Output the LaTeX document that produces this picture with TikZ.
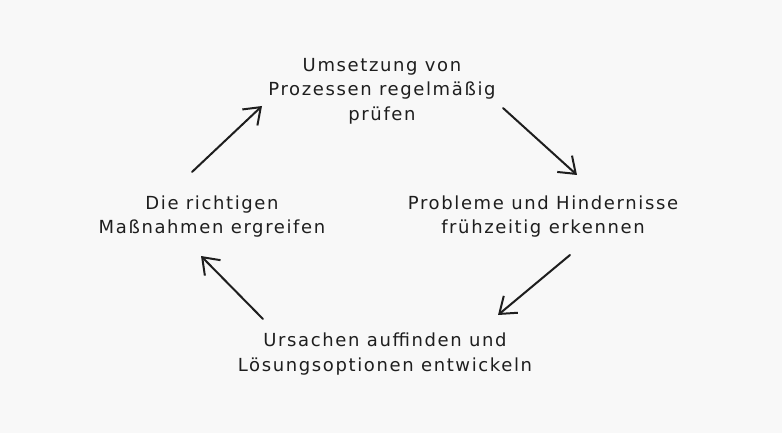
\documentclass[tikz,border=0pt]{standalone}
\usepackage{fontspec}
\setmainfont{DejaVu Sans}[LetterSpace=9]
\usetikzlibrary{arrows.meta}
\definecolor{bg}{HTML}{F8F8F8}
\definecolor{ink}{HTML}{1E1E1E}
\tikzset{
  label/.style={align=center, text=ink, font=\fontsize{18}{24.5}\selectfont, inner sep=0pt},
  flow/.style={draw=ink, line width=2pt, line cap=round,
    -{Straight Barb[length=15pt,width=22pt,line width=2pt]}}
}
\begin{document}
\begin{tikzpicture}[x=1pt,y=-1pt]
\fill[bg] (0,0) rectangle (782,433);
\useasboundingbox (0,0) rectangle (782,433);
\node[label] (top) at (382,91) {Umsetzung von\\Prozessen regelmäßig\\prüfen};
\node[label] (right) at (543,216.5) {Probleme und Hindernisse\\frühzeitig erkennen};
\node[label] (left) at (212,216.5) {Die richtigen\\Maßnahmen ergreifen};
\node[label] (bottom) at (385,354) {Ursachen auffinden und\\Lösungsoptionen entwickeln};
\coordinate (a1) at (503,108);
\coordinate (a2) at (577,175);
\coordinate (b1) at (570,255);
\coordinate (b2) at (498,315);
\coordinate (c1) at (263,319);
\coordinate (c2) at (201,256);
\coordinate (d1) at (192,172);
\coordinate (d2) at (262,106);
\draw[flow] (a1) -- (a2);
\draw[flow] (b1) -- (b2);
\draw[flow] (c1) -- (c2);
\draw[flow] (d1) -- (d2);
\end{tikzpicture}
\end{document}
